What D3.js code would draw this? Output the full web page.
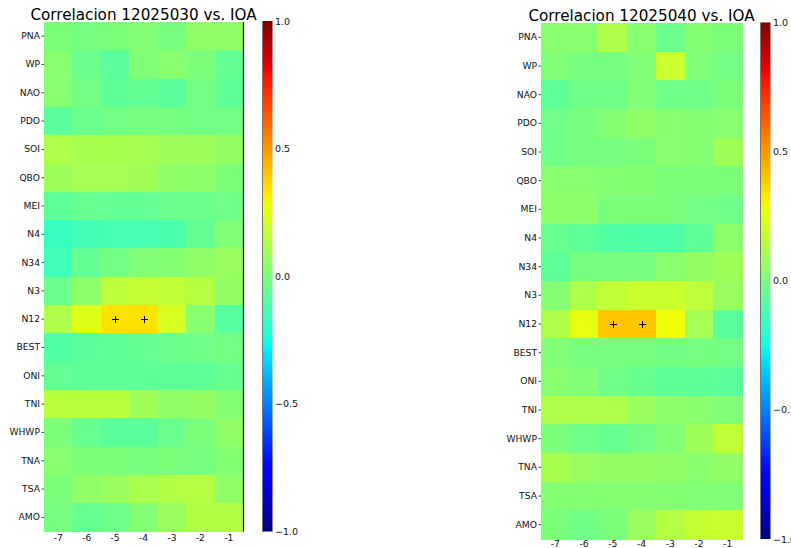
<!DOCTYPE html>
<html>
<head>
<meta charset="utf-8">
<script src="https://cdn.jsdelivr.net/npm/d3@7"></script>
<style>
  html, body { margin: 0; padding: 0; background: #fff; }
  svg { display: block; font-family: "DejaVu Sans", sans-serif; }
</style>
</head>
<body>
<svg id="chart" width="791" height="548"></svg>
<script>
// Climate indices (rows) and lags in months (columns)
const indices = ["PNA", "WP", "NAO", "PDO", "SOI", "QBO", "MEI", "N4", "N34", "N3",
                 "N12", "BEST", "ONI", "TNI", "WHWP", "TNA", "TSA", "AMO"];
const lags = [-7, -6, -5, -4, -3, -2, -1];
const colorbarTicks = [1.0, 0.5, 0.0, -0.5, -1.0];

// Correlation of station 12025030 with each index, per lag
const corr12025030 = [
  [ 0.00, -0.01,  0.00,  0.02, -0.01,  0.05,  0.05],  // PNA
  [ 0.03, -0.04, -0.08,  0.01,  0.03,  0.00, -0.06],  // WP
  [ 0.03, -0.02, -0.07, -0.06, -0.08, -0.02, -0.07],  // NAO
  [-0.08, -0.04, -0.02, -0.01, -0.01, -0.02, -0.02],  // PDO
  [ 0.12,  0.11,  0.11,  0.10,  0.08,  0.08,  0.06],  // SOI
  [ 0.08,  0.10,  0.10,  0.09,  0.05,  0.04,  0.00],  // QBO
  [-0.07, -0.05, -0.06, -0.06, -0.04, -0.04, -0.03],  // MEI
  [-0.17, -0.14, -0.13, -0.13, -0.12, -0.06,  0.01],  // N4
  [-0.15, -0.06, -0.02,  0.01,  0.02,  0.05,  0.07],  // N34
  [-0.04,  0.04,  0.16,  0.18,  0.17,  0.14,  0.06],  // N3
  [ 0.12,  0.24,  0.34,  0.34,  0.22,  0.03, -0.09],  // N12
  [-0.10, -0.08, -0.07, -0.06, -0.04, -0.03, -0.02],  // BEST
  [-0.06, -0.07, -0.07, -0.07, -0.07, -0.07, -0.05],  // ONI
  [ 0.15,  0.15,  0.15,  0.09,  0.05,  0.06,  0.02],  // TNI
  [ 0.00, -0.05, -0.08, -0.08, -0.04,  0.00,  0.05],  // WHWP
  [ 0.03,  0.00,  0.00, -0.01,  0.00, -0.01,  0.02],  // TNA
  [ 0.00,  0.05,  0.07,  0.11,  0.13,  0.14,  0.05],  // TSA
  [-0.01, -0.05, -0.03,  0.02,  0.07,  0.13,  0.13]   // AMO
];

// Correlation of station 12025040 with each index, per lag
const corr12025040 = [
  [ 0.03,  0.03,  0.12,  0.03, -0.04,  0.02,  0.00],  // PNA
  [ 0.01, -0.01, -0.01,  0.01,  0.19,  0.01, -0.02],  // WP
  [-0.07, -0.03, -0.03,  0.01, -0.03, -0.03,  0.00],  // NAO
  [-0.03, -0.01,  0.02,  0.05,  0.03,  0.02,  0.03],  // PDO
  [-0.03, -0.01, -0.01,  0.00,  0.03,  0.02,  0.09],  // SOI
  [ 0.03,  0.03,  0.02,  0.02,  0.00,  0.00,  0.00],  // QBO
  [ 0.04,  0.04,  0.00,  0.00,  0.00, -0.02, -0.03],  // MEI
  [-0.05, -0.07, -0.10, -0.11, -0.11, -0.07,  0.04],  // N4
  [-0.07, -0.01, -0.01, -0.01,  0.03,  0.06,  0.09],  // N34
  [ 0.02,  0.12,  0.17,  0.19,  0.19,  0.16,  0.07],  // N3
  [ 0.12,  0.26,  0.40,  0.40,  0.28,  0.10, -0.08],  // N12
  [ 0.01, -0.01, -0.01, -0.01, -0.02, -0.01, -0.02],  // BEST
  [ 0.03,  0.01, -0.03, -0.05, -0.07, -0.07, -0.08],  // ONI
  [ 0.12,  0.12,  0.12,  0.07,  0.04,  0.03,  0.01],  // TNI
  [ 0.00, -0.03, -0.05, -0.02,  0.01,  0.09,  0.17],  // WHWP
  [ 0.11,  0.07,  0.06,  0.06,  0.05,  0.03,  0.05],  // TNA
  [ 0.02,  0.02,  0.02,  0.02,  0.02,  0.01,  0.01],  // TSA
  [ 0.00, -0.03,  0.00,  0.07,  0.14,  0.18,  0.19]   // AMO
];

// Significant cells (index name, lag) marked with "+"
const signif12025030 = [["N12", -5], ["N12", -4]];
const signif12025040 = [["N12", -5], ["N12", -4]];

// Matplotlib "jet" colormap, piecewise linear segments
const jetSegments = {
  r: [[0, 0], [0.35, 0], [0.66, 1], [0.89, 1], [1, 0.5]],
  g: [[0, 0], [0.125, 0], [0.375, 1], [0.64, 1], [0.91, 0], [1, 0]],
  b: [[0, 0.5], [0.11, 1], [0.34, 1], [0.65, 0], [1, 0]]
};
function segInterp(seg, t) {
  for (let i = 1; i < seg.length; i++) {
    if (t <= seg[i][0]) {
      const [x0, y0] = seg[i - 1], [x1, y1] = seg[i];
      return y0 + (y1 - y0) * (t - x0) / (x1 - x0);
    }
  }
  return seg[seg.length - 1][1];
}
function jet(t) {
  t = Math.max(0, Math.min(1, t));
  const c = k => Math.round(255 * segInterp(jetSegments[k], t));
  return `rgb(${c("r")},${c("g")},${c("b")})`;
}
const color = d3.scaleSequential(jet).domain([-1, 1]);

const svg = d3.select("#chart");
const defs = svg.append("defs");

const grad = defs.append("linearGradient")
  .attr("id", "jetGrad").attr("x1", 0).attr("y1", 1).attr("x2", 0).attr("y2", 0);
d3.range(0, 1.0001, 1 / 128).forEach(t => {
  grad.append("stop").attr("offset", t).attr("stop-color", jet(t));
});

const fmtTick = d => d3.format(".1f")(d).replace("-", "\u2212");

function drawPanel(cfg) {
  const g = svg.append("g");
  const x = d3.scaleBand().domain(lags).range([cfg.left, cfg.right]);
  const y = d3.scaleBand().domain(indices).range([cfg.top, cfg.bottom]);

  // heatmap cells
  const cells = [];
  cfg.values.forEach((row, i) => row.forEach((v, j) => cells.push({ idx: indices[i], lag: lags[j], v })));
  g.append("g").selectAll("rect").data(cells).join("rect")
    .attr("x", d => x(d.lag))
    .attr("y", d => y(d.idx))
    .attr("width", x.bandwidth() + 0.5)
    .attr("height", y.bandwidth() + 0.5)
    .attr("fill", d => color(d.v))
    .attr("shape-rendering", "crispEdges");

  // significance markers
  const pm = g.append("g").attr("stroke", "#000").attr("stroke-width", 1);
  cfg.signif.forEach(([idx, lag]) => {
    const cx = Math.round(x(lag) + x.bandwidth() / 2) + 0.5;
    const cy = Math.round(y(idx) + y.bandwidth() / 2) + 0.5;
    pm.append("line").attr("x1", cx - 3.5).attr("x2", cx + 3.5).attr("y1", cy).attr("y2", cy);
    pm.append("line").attr("x1", cx).attr("x2", cx).attr("y1", cy - 3.5).attr("y2", cy + 3.5);
  });

  if (cfg.rightSpine) {
    g.append("line")
      .attr("x1", cfg.right + 0.5).attr("x2", cfg.right + 0.5)
      .attr("y1", cfg.top).attr("y2", cfg.bottom)
      .attr("stroke", "#111").attr("stroke-width", 1.2);
  }

  // y axis: index names
  const yAxis = d3.axisLeft(y).tickSize(2.5).tickPadding(1.5);
  const ya = g.append("g").attr("transform", `translate(${cfg.left},0)`).call(yAxis);
  ya.select(".domain").remove();
  ya.selectAll("line").attr("stroke", "#444");
  ya.selectAll("text").attr("font-size", 9.2).attr("fill", "#111")
    .attr("font-family", "DejaVu Sans, sans-serif");

  // x axis: lags
  const xAxis = d3.axisBottom(x).tickSize(0).tickPadding(cfg.xPad).tickFormat(d => String(d));
  const xa = g.append("g").attr("transform", `translate(0,${cfg.bottom})`).call(xAxis);
  xa.select(".domain").remove();
  xa.selectAll("text").attr("font-size", 9.2).attr("fill", "#111")
    .attr("font-family", "DejaVu Sans, sans-serif");

  // title
  g.append("text")
    .attr("x", (cfg.left + cfg.right) / 2)
    .attr("y", cfg.top - 2)
    .attr("text-anchor", "middle")
    .attr("font-size", 15.2)
    .attr("fill", "#000")
    .text(cfg.title);

  // colorbar
  const cb = d3.scaleLinear().domain([-1, 1]).range([cfg.cbBottom, cfg.cbTop]);
  g.append("rect")
    .attr("x", cfg.cbLeft).attr("y", cfg.cbTop)
    .attr("width", cfg.cbWidth).attr("height", cfg.cbBottom - cfg.cbTop)
    .attr("fill", "url(#jetGrad)");
  g.append("line")
    .attr("x1", cfg.cbLeft + 0.5).attr("x2", cfg.cbLeft + 0.5)
    .attr("y1", cfg.cbTop).attr("y2", cfg.cbBottom)
    .attr("stroke", "#777").attr("stroke-width", 1);
  const cbAxis = d3.axisRight(cb).tickValues(colorbarTicks).tickSize(0).tickPadding(2.5).tickFormat(fmtTick);
  const ca = g.append("g").attr("transform", `translate(${cfg.cbLeft + cfg.cbWidth},0)`).call(cbAxis);
  ca.select(".domain").remove();
  ca.selectAll("text").attr("font-size", 9.5).attr("fill", "#111")
    .attr("font-family", "DejaVu Sans, sans-serif");
}

drawPanel({
  title: "Correlacion 12025030 vs. IOA",
  values: corr12025030, signif: signif12025030,
  left: 44, right: 243, top: 22, bottom: 531.5, xPad: 3,
  cbLeft: 262, cbWidth: 10.5, cbTop: 21, cbBottom: 531.5,
  rightSpine: true
});
drawPanel({
  title: "Correlacion 12025040 vs. IOA",
  values: corr12025040, signif: signif12025040,
  left: 541, right: 742, top: 23, bottom: 539, xPad: 1,
  cbLeft: 760, cbWidth: 10.5, cbTop: 22.5, cbBottom: 539,
  rightSpine: false
});
</script>
</body>
</html>
